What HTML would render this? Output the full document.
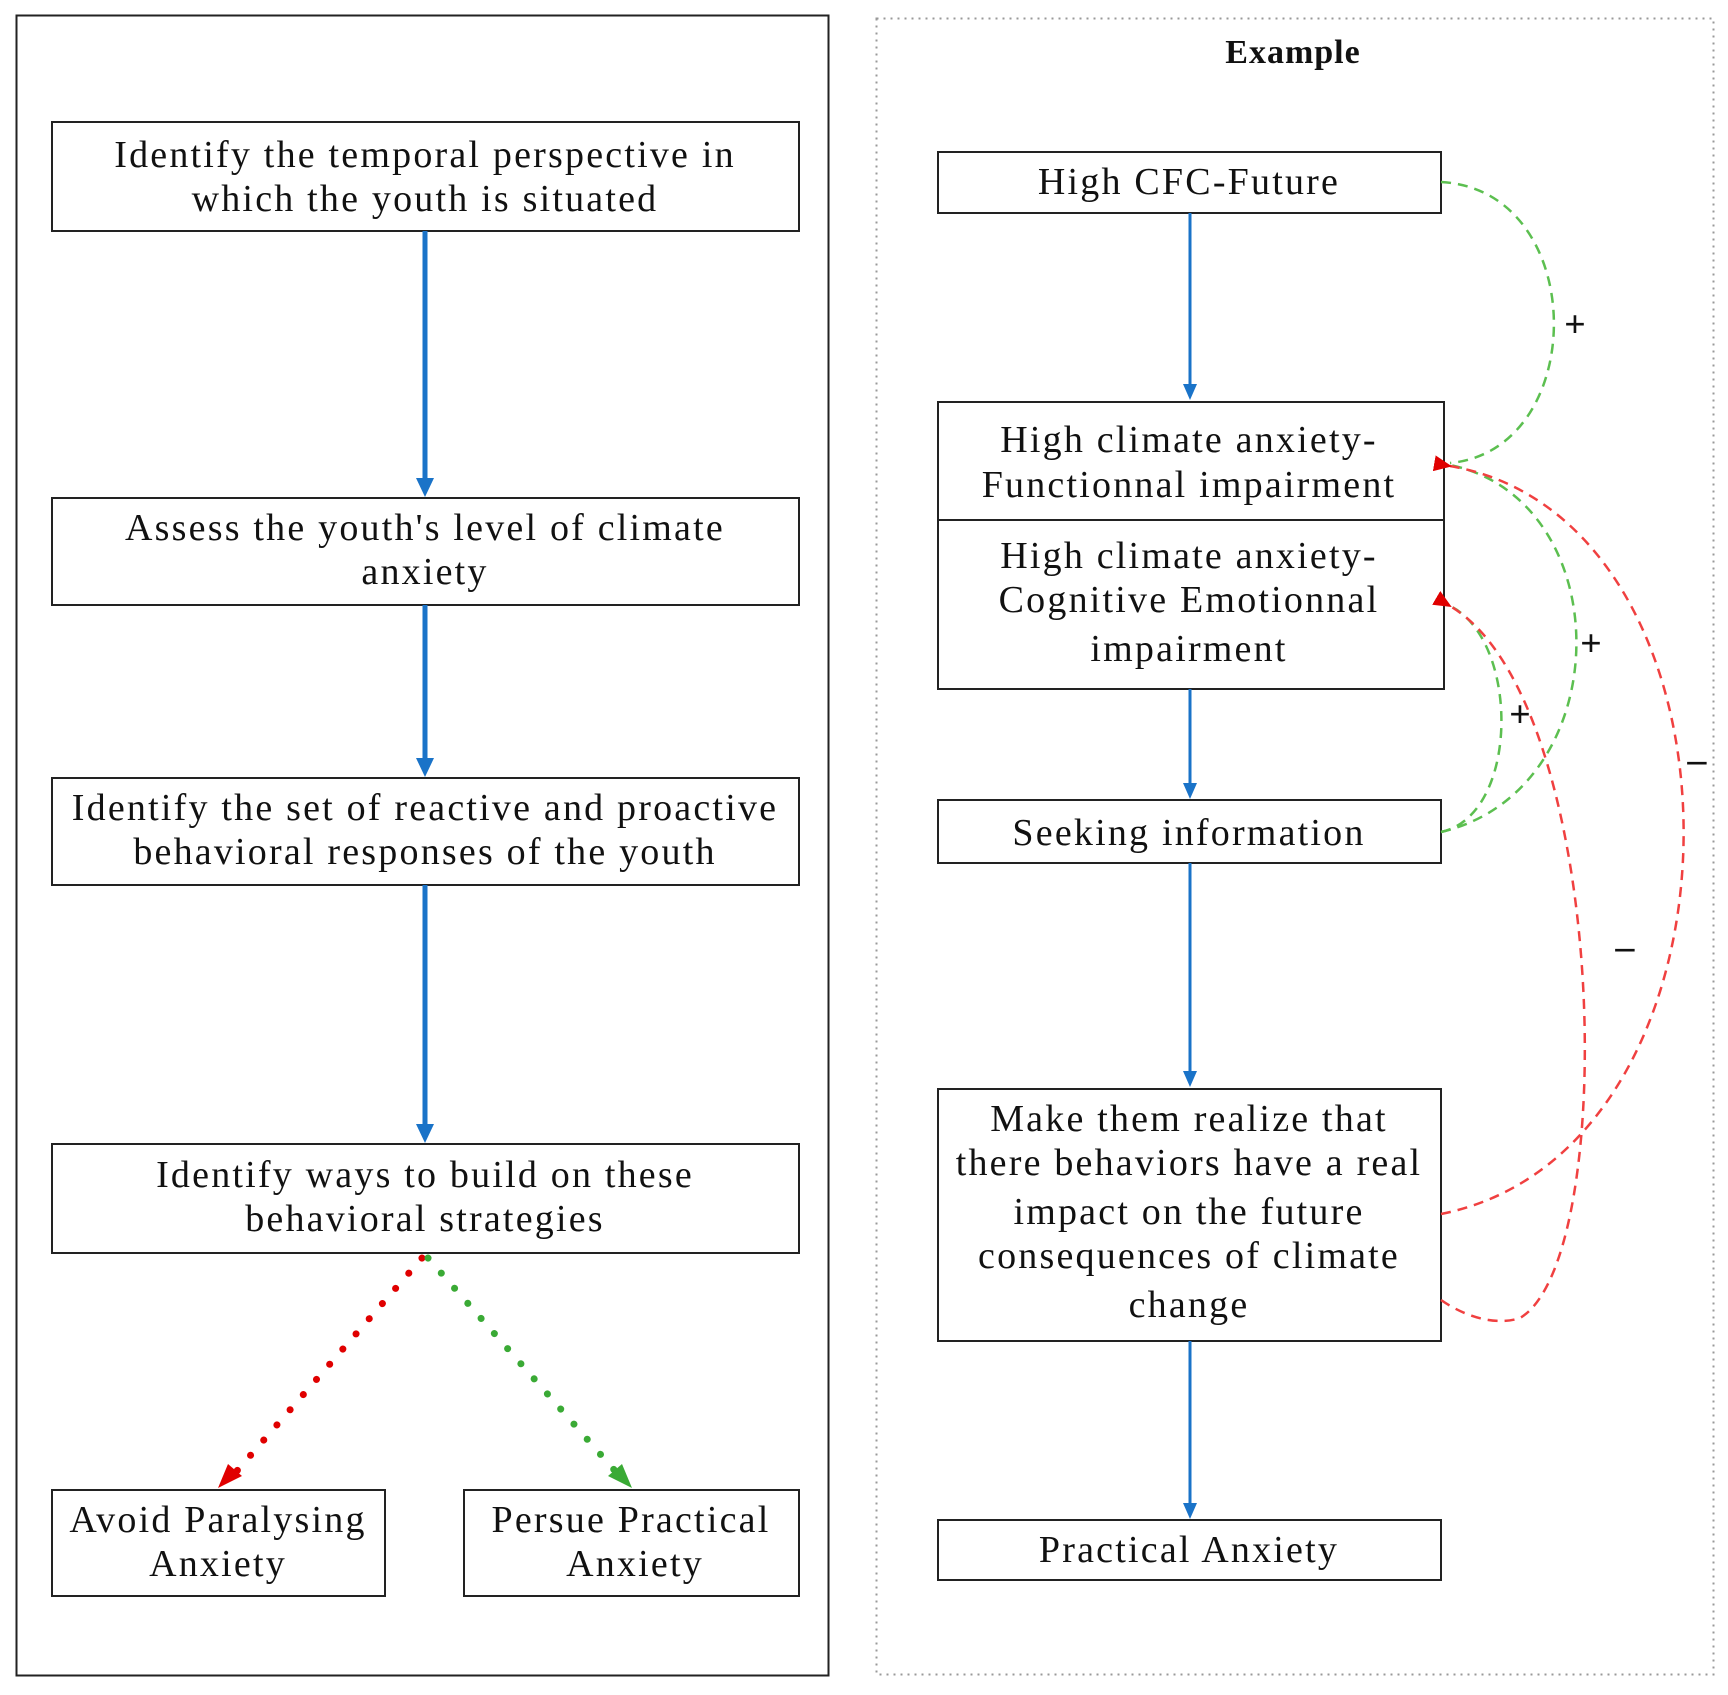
<!DOCTYPE html>
<html><head><meta charset="utf-8"><style>
body{margin:0;background:#fff}
svg text{font-family:"Liberation Serif",serif;font-size:38px;letter-spacing:2.2px;fill:#111;text-anchor:middle}
</style></head><body>
<svg width="1728" height="1690" viewBox="0 0 1728 1690" xmlns="http://www.w3.org/2000/svg">
<defs>
<marker id="ar" markerWidth="18" markerHeight="16" refX="2" refY="8" orient="auto-start-reverse" markerUnits="userSpaceOnUse" viewBox="0 0 18 16"><path d="M18,0 L0,8 L18,16 Z" fill="#e00000"/></marker>
</defs>
<rect x="16.5" y="15.5" width="812" height="1660" fill="none" stroke="#222" stroke-width="2"/>
<rect x="876.5" y="18.5" width="837" height="1656" fill="none" stroke="#999" stroke-width="2" stroke-dasharray="2 5"/>
<text x="1293" y="63" font-weight="bold" style="font-size:34px;letter-spacing:1px">Example</text>
<g fill="none" stroke="#222" stroke-width="2">
<rect x="52" y="122" width="747" height="109"/>
<rect x="52" y="498" width="747" height="107"/>
<rect x="52" y="778" width="747" height="107"/>
<rect x="52" y="1144" width="747" height="109"/>
<rect x="52" y="1490" width="333" height="106"/>
<rect x="464" y="1490" width="335" height="106"/>
<rect x="938" y="152" width="503" height="61"/>
<rect x="938" y="402" width="506" height="287"/>
<line x1="938" y1="520" x2="1444" y2="520"/>
<rect x="938" y="800" width="503" height="63"/>
<rect x="938" y="1089" width="503" height="252"/>
<rect x="938" y="1520" width="503" height="60"/>
</g>
<g stroke="#1a73c8" stroke-width="5">
<line x1="425" y1="231" x2="425" y2="482"/>
<line x1="425" y1="605" x2="425" y2="762"/>
<line x1="425" y1="885" x2="425" y2="1128"/>
</g>
<g fill="#1a73c8">
<path d="M416,478 L434,478 L425,497 Z"/>
<path d="M416,758 L434,758 L425,777 Z"/>
<path d="M416,1124 L434,1124 L425,1143 Z"/>
</g>
<g stroke="#1a73c8" stroke-width="3">
<line x1="1190" y1="213" x2="1190" y2="388"/>
<line x1="1190" y1="689" x2="1190" y2="787"/>
<line x1="1190" y1="863" x2="1190" y2="1075"/>
<line x1="1190" y1="1341" x2="1190" y2="1507"/>
</g>
<g fill="#1a73c8">
<path d="M1183,384 L1197,384 L1190,400 Z"/>
<path d="M1183,783 L1197,783 L1190,799 Z"/>
<path d="M1183,1071 L1197,1071 L1190,1087 Z"/>
<path d="M1183,1503 L1197,1503 L1190,1519 Z"/>
</g>
<line x1="422" y1="1258" x2="236" y2="1472" stroke="#e00000" stroke-width="7" stroke-linecap="round" stroke-dasharray="0.1 20"/>
<path d="M218,1488 L228,1464 L242,1476 Z" fill="#e00000"/>
<line x1="428" y1="1258" x2="616" y2="1472" stroke="#3aaa35" stroke-width="7" stroke-linecap="round" stroke-dasharray="0.1 20"/>
<path d="M632,1488 L608,1476 L622,1464 Z" fill="#3aaa35"/>
<g fill="none" stroke-width="2.5" stroke-dasharray="10 7">
<path d="M1441,182 C1590,190 1590,450 1450,463" stroke="#5cbf50"/>
<path d="M1441,832 C1620,790 1620,500 1450,465" stroke="#5cbf50"/>
<path d="M1441,832 C1520,815 1520,640 1450,606" stroke="#5cbf50"/>
<path d="M1441,1214 C1763,1150 1763,520 1450,466" stroke="#f04040" marker-end="url(#ar)"/>
<path d="M1441,1300 C1470,1320 1500,1325 1520,1318 C1620,1260 1610,700 1450,606" stroke="#f04040" marker-end="url(#ar)"/>
</g>
<g style="font-size:30px;font-weight:bold;letter-spacing:0">
<text x="1576" y="337">+</text>
<text x="1592" y="656">+</text>
<text x="1521" y="727">+</text>
<text x="1698" y="772">–</text>
<text x="1626" y="959">–</text>
</g>
<text x="425" y="167">Identify the temporal perspective in</text>
<text x="425" y="211">which the youth is situated</text>
<text x="425" y="540">Assess the youth's level of climate</text>
<text x="425" y="584">anxiety</text>
<text x="425" y="820">Identify the set of reactive and proactive</text>
<text x="425" y="864">behavioral responses of the youth</text>
<text x="425" y="1187">Identify ways to build on these</text>
<text x="425" y="1231">behavioral strategies</text>
<text x="218" y="1532">Avoid Paralysing</text>
<text x="218" y="1576">Anxiety</text>
<text x="631" y="1532">Persue Practical</text>
<text x="635" y="1576">Anxiety</text>
<text x="1189" y="194">High CFC-Future</text>
<text x="1189" y="452">High climate anxiety-</text>
<text x="1189" y="497">Functionnal impairment</text>
<text x="1189" y="568">High climate anxiety-</text>
<text x="1189" y="612">Cognitive Emotionnal</text>
<text x="1189" y="661">impairment</text>
<text x="1189" y="845">Seeking information</text>
<text x="1189" y="1131">Make them realize that</text>
<text x="1189" y="1175">there behaviors have a real</text>
<text x="1189" y="1224">impact on the future</text>
<text x="1189" y="1268">consequences of climate</text>
<text x="1189" y="1317">change</text>
<text x="1189" y="1562">Practical Anxiety</text>
</svg>
</body></html>
